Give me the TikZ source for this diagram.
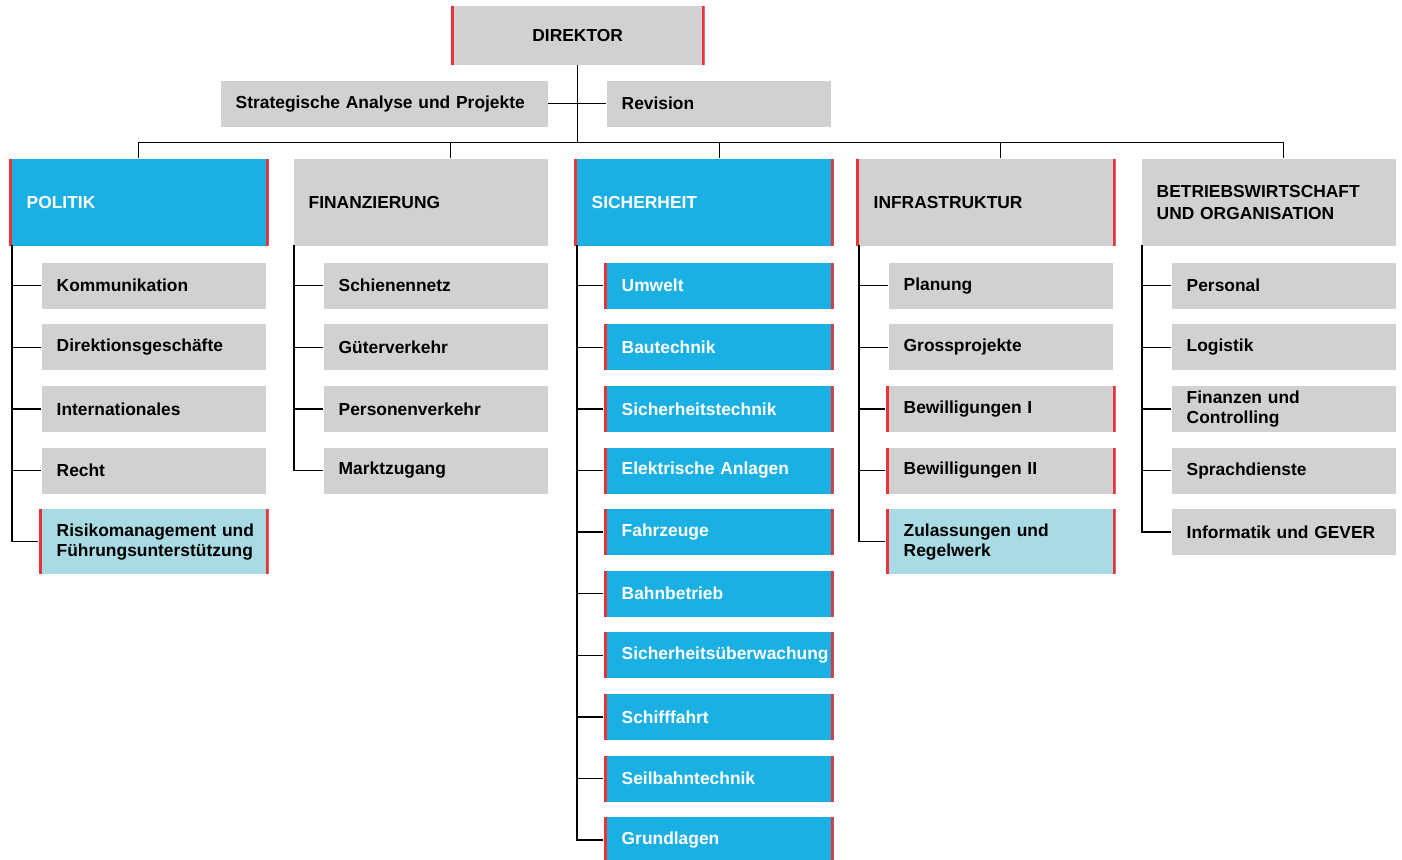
\documentclass[tikz,border=0pt]{standalone}
\usepackage{fontspec}
\setmainfont{Liberation Sans}
\usepackage{tikz}
\definecolor{boxgray}{RGB}{208,209,208}
\definecolor{bavblau}{RGB}{27,176,228}
\definecolor{hellblau}{RGB}{168,219,228}
\definecolor{akzent}{RGB}{234,50,56}
\tikzset{
  box/.style={rectangle,fill=boxgray,anchor=north west,inner xsep=15pt,inner ysep=0pt,
    text width=194pt,minimum height=46pt,align=left,
    font=\bfseries\fontsize{17.4}{20}\selectfont},
  redsides/.style={path picture={
    \fill[akzent] (path picture bounding box.south west) rectangle ([xshift=3.2pt]path picture bounding box.north west);
    \fill[akzent] (path picture bounding box.south east) rectangle ([xshift=-3.2pt]path picture bounding box.north east);}},
  rbox/.style={box,inner xsep=18pt,redsides},
  head/.style={text width=224pt,minimum height=87pt},
  blau/.style={fill=bavblau,text=white}
}
\begin{document}
\begin{tikzpicture}[x=1pt,y=-1pt,line width=1.4pt]
\useasboundingbox (0,0) rectangle (1402,859);

\node[box,redsides,align=center,text width=224pt,minimum height=59pt] (dir) at (450,5) {DIREKTOR};
\node[box,text width=297pt] (sap) at (220,80) {Strategische Analyse und Projekte};
\node[box] (rev) at (606,80) {Revision};

\node[rbox,head,blau] (pol) at (8,158) {POLITIK};
\node[box,head] (fin) at (293,158) {FINANZIERUNG};
\node[rbox,head,blau] (sic) at (573,158) {SICHERHEIT};
\node[rbox,head] (inf) at (855,158) {INFRASTRUKTUR};
\node[box,head,font=\bfseries\fontsize{17.4}{22}\selectfont] (bwo) at (1141,158) {BETRIEBSWIRTSCHAFT\\UND ORGANISATION};

\node[box] (kom) at (41,262) {Kommunikation};
\node[box] (dgs) at (41,323.6) {Direktionsgeschäfte};
\node[box] (int) at (41,385.2) {Internationales};
\node[box] (rec) at (41,446.8) {Recht};
\node[rbox,fill=hellblau,minimum height=65pt] (ris) at (38,508.4) {\mbox{Risikomanagement und}\\\mbox{Führungsunterstützung}};

\node[box] (sch) at (323,262) {Schienennetz};
\node[box] (gue) at (323,323.6) {Güterverkehr};
\node[box] (per) at (323,385.2) {Personenverkehr};
\node[box] (mkt) at (323,446.8) {Marktzugang};

\node[rbox,blau] (umw) at (603,262) {Umwelt};
\node[rbox,blau] (bau) at (603,323.6) {Bautechnik};
\node[rbox,blau] (stc) at (603,385.2) {Sicherheitstechnik};
\node[rbox,blau] (ela) at (603,446.8) {Elektrische Anlagen};
\node[rbox,blau] (fzg) at (603,508.4) {Fahrzeuge};
\node[rbox,blau] (bbt) at (603,570) {Bahnbetrieb};
\node[rbox,blau] (sue) at (603,631.6) {\mbox{Sicherheitsüberwachung}};
\node[rbox,blau] (shf) at (603,693.2) {Schifffahrt};
\node[rbox,blau] (slb) at (603,754.8) {Seilbahntechnik};
\node[rbox,blau] (gdl) at (603,816.4) {Grundlagen};

\node[box] (pla) at (888,262) {Planung};
\node[box] (gpj) at (888,323.6) {Grossprojekte};
\node[rbox] (bw1) at (885,385.2) {Bewilligungen I};
\node[rbox] (bw2) at (885,446.8) {Bewilligungen II};
\node[rbox,fill=hellblau,minimum height=65pt] (zul) at (885,508.4) {Zulassungen und\\Regelwerk};

\node[box] (prs) at (1171,262) {Personal};
\node[box] (log) at (1171,323.6) {Logistik};
\node[box] (fco) at (1171,385.2) {Finanzen und\\Controlling};
\node[box] (spr) at (1171,446.8) {Sprachdienste};
\node[box] (ifg) at (1171,508.4) {Informatik und GEVER};

% Linien
\path (dir.south) ++(0,77) coordinate (bus);
\draw (dir.south) -- (bus);
\draw (sap.east) -- (rev.west);
\draw (pol.north) |- (bus) -| ([xshift=15pt]bwo.north);
\draw ([xshift=30pt]fin.north) -- ([xshift=30pt]fin.north |- bus);
\draw ([xshift=16pt]sic.north) -- ([xshift=16pt]sic.north |- bus);
\draw ([xshift=15pt]inf.north) -- ([xshift=15pt]inf.north |- bus);

\coordinate (polv) at (12,245);
\coordinate (finv) at (294,245);
\coordinate (sicv) at (577,245);
\coordinate (infv) at (859,245);
\coordinate (bwov) at (1142,245);
\draw (polv) |- (ris.west);
\draw (finv) |- (mkt.west);
\draw (sicv) |- (gdl.west);
\draw (infv) |- (zul.west);
\draw (bwov) |- (ifg.west);
\foreach \n in {kom,dgs,int,rec} \draw (\n.west) -- (\n.west -| polv);
\foreach \n in {sch,gue,per} \draw (\n.west) -- (\n.west -| finv);
\foreach \n in {umw,bau,stc,ela,fzg,bbt,sue,shf,slb} \draw (\n.west) -- (\n.west -| sicv);
\foreach \n in {pla,gpj,bw1,bw2} \draw (\n.west) -- (\n.west -| infv);
\foreach \n in {prs,log,fco,spr} \draw (\n.west) -- (\n.west -| bwov);
\end{tikzpicture}
\end{document}
